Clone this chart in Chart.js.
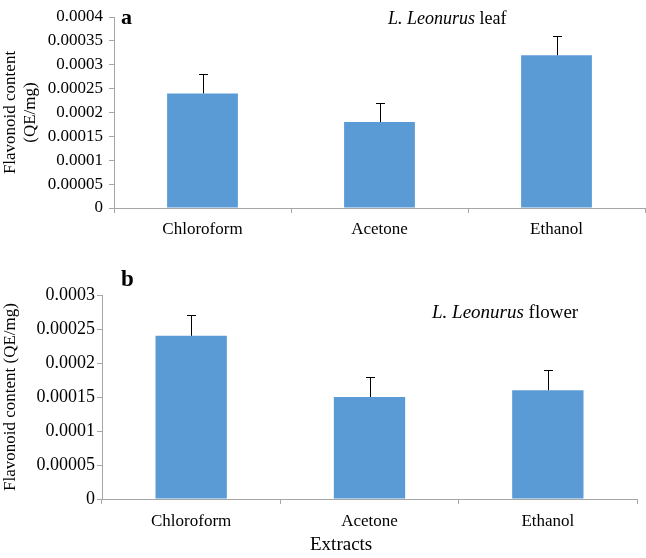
<!DOCTYPE html>
<html>
<head>
<meta charset="utf-8">
<script src="https://cdn.jsdelivr.net/npm/chart.js@4.4.1/dist/chart.umd.min.js"></script>
<style>
  body { margin: 0; background: #fff; width: 646px; height: 558px; position: relative; overflow: hidden; }
  .box { position: absolute; left: 0; width: 646px; }
</style>
</head>
<body>
<div class="box" style="top:0;height:252px"><canvas id="leafChart"></canvas></div>
<div class="box" style="top:258px;height:300px"><canvas id="flowerChart"></canvas></div>
<script>
// data
const extracts = ['Chloroform', 'Acetone', 'Ethanol'];
const leafValues = [0.00024, 0.00018, 0.00032];
const leafErrors = [0.00004, 0.00004, 0.00004];
const flowerValues = [0.00024, 0.00015, 0.00016];
const flowerErrors = [0.00003, 0.00003, 0.00003];
const leafTicksMax = 0.0004;
const flowerTicksMax = 0.0003;
const tickStep = 0.00005;

Chart.defaults.font.family = "'Liberation Serif', 'Times New Roman', serif";
Chart.defaults.color = '#000';

const barColor = '#5b9bd5';
const axisColor = '#a6a6a6';

// upper error bars
const errorBars = {
    id: 'errorBars',
    afterDatasetsDraw(chart, args, opts) {
        const ctx = chart.ctx;
        const meta = chart.getDatasetMeta(0);
        const y = chart.scales.y;
        ctx.save();
        ctx.strokeStyle = '#000';
        ctx.lineWidth = 1;
        meta.data.forEach((bar, i) => {
            const v = chart.data.datasets[0].data[i];
            const top = y.getPixelForValue(v + opts.errors[i]);
            const x = Math.round(bar.x) + 0.5;
            ctx.beginPath();
            ctx.moveTo(x, bar.y);
            ctx.lineTo(x, Math.round(top) + 0.5);
            ctx.moveTo(x - 4.5, Math.round(top) + 0.5);
            ctx.lineTo(x + 4.5, Math.round(top) + 0.5);
            ctx.stroke();
        });
        ctx.restore();
    }
};

// panel letters and titles (mixed italic / roman)
const labels = {
    id: 'labels',
    afterDraw(chart, args, opts) {
        const ctx = chart.ctx;
        ctx.save();
        ctx.fillStyle = '#000';
        ctx.textBaseline = 'middle';
        opts.items.forEach(item => {
            let x = item.x;
            item.parts.forEach(p => {
                ctx.font = p.font;
                ctx.textAlign = 'left';
                ctx.fillText(p.text, x, item.y);
                x += ctx.measureText(p.text).width;
            });
        });
        ctx.restore();
    }
};

function fmt(v) {
    return Number(v.toFixed(5)).toString();
}

function makeChart(id, values, errors, max, o) {
    return new Chart(document.getElementById(id), {
        type: 'bar',
        data: {
            labels: extracts,
            datasets: [{
                data: values,
                backgroundColor: barColor,
                borderWidth: 0,
                categoryPercentage: 0.4,
                barPercentage: 1
            }]
        },
        options: {
            responsive: true,
            maintainAspectRatio: false,
            animation: false,
            layout: { padding: { top: o.padTop, right: o.padRight, left: 0, bottom: 0 } },
            plugins: {
                legend: { display: false },
                tooltip: { enabled: false },
                errorBars: { errors: errors },
                labels: { items: o.texts }
            },
            scales: {
                x: {
                    grid: { display: true, drawOnChartArea: false, offset: true, color: axisColor, tickLength: 5 },
                    border: { color: axisColor },
                    ticks: { font: { size: o.catSize }, padding: o.catPad },
                    afterFit: s => { s.height = o.xHeight; }
                },
                y: {
                    min: 0,
                    max: max,
                    grid: { display: true, drawOnChartArea: false, color: axisColor, tickLength: 5 },
                    border: { color: axisColor },
                    ticks: { stepSize: tickStep, font: { size: o.tickSize }, padding: o.tickPad, callback: v => fmt(v) },
                    title: { display: true, text: o.yTitle, font: { size: 17 }, padding: { top: 0, bottom: 0 } },
                    afterFit: s => { s.width = o.yWidth; }
                }
            }
        },
        plugins: [errorBars, labels]
    });
}

makeChart('leafChart', leafValues, leafErrors, leafTicksMax, {
    padTop: 17, padRight: 1, xHeight: 44, yWidth: 114,
    catSize: 17, catPad: 6, tickSize: 17, tickPad: 6,
    yTitle: ['Flavonoid content', '(QE/mg)'],
    texts: [
        { x: 121, y: 18, parts: [{ text: 'a', font: "bold 22px 'Liberation Serif'" }] },
        { x: 388, y: 19, parts: [
            { text: 'L. Leonurus ', font: "italic 18px 'Liberation Serif'" },
            { text: 'leaf', font: "18px 'Liberation Serif'" }
        ] }
    ]
});

makeChart('flowerChart', flowerValues, flowerErrors, flowerTicksMax, {
    padTop: 37, padRight: 9, xHeight: 59, yWidth: 102,
    catSize: 17, catPad: 7, tickSize: 18, tickPad: 2,
    yTitle: 'Flavonoid content (QE/mg)',
    texts: [
        { x: 121, y: 22, parts: [{ text: 'b', font: "bold 23px 'Liberation Serif'" }] },
        { x: 432, y: 55, parts: [
            { text: 'L. Leonurus ', font: "italic 19px 'Liberation Serif'" },
            { text: 'flower', font: "19px 'Liberation Serif'" }
        ] },
        { x: 310, y: 287, parts: [{ text: 'Extracts', font: "19px 'Liberation Serif'" }] }
    ]
});
</script>
</body>
</html>
